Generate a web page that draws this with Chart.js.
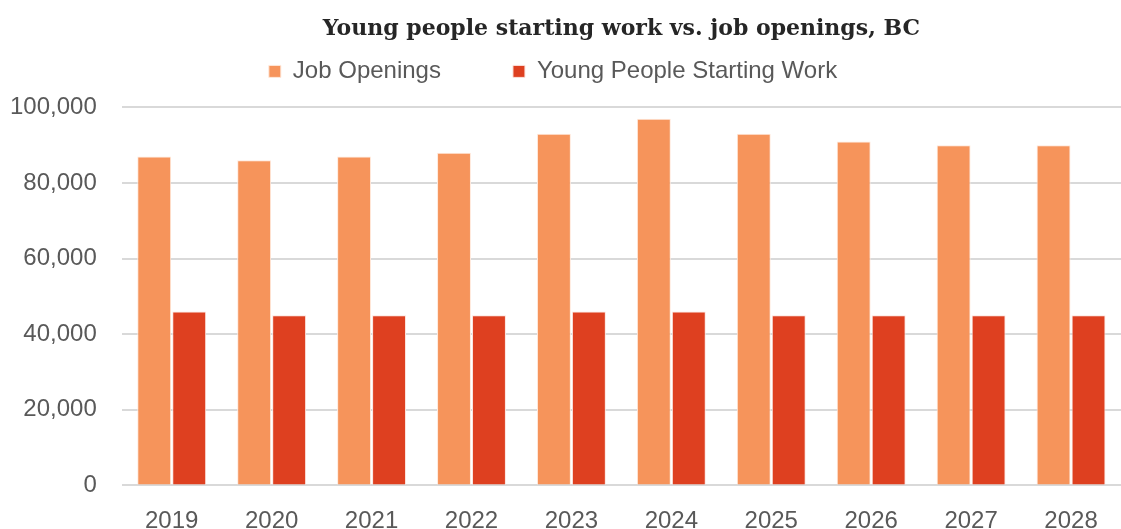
<!doctype html>
<html lang="en">
  <head>
    <meta charset="UTF-8" />
    <title>Young people starting work vs. job openings, BC</title>
    <script src="https://cdn.jsdelivr.net/npm/chart.js"></script>
    <style>
      html, body { margin: 0; padding: 0; background: #fff; }
      #wrap { width: 1121px; height: 529px; }
    </style>
  </head>
  <body>
    <div id="wrap"><canvas id="grafico"></canvas></div>

    <script>
      // data
      const anos = ["2019", "2020", "2021", "2022", "2023", "2024", "2025", "2026", "2027", "2028"];
      const jobOpenings = [87000, 86000, 87000, 88000, 93000, 97000, 93000, 91000, 90000, 90000];
      const youngPeople = [46000, 45000, 45000, 45000, 46000, 46000, 45000, 45000, 45000, 45000];
      const yTicks = [0, 20000, 40000, 60000, 80000, 100000];

      const fonteSans = "'Liberation Sans', sans-serif";

      // extra space under the legend, before the plot
      const espacoLegenda = {
        id: "espacoLegenda",
        beforeLayout(chart) {
          const leg = chart.legend;
          if (leg && !leg._comEspaco) {
            const fitOriginal = leg.fit;
            leg.fit = function () {
              fitOriginal.call(this);
              this.height += 14;
            };
            leg._comEspaco = true;
          }
        },
      };

      const config = {
        type: "bar",
        data: {
          labels: anos,
          datasets: [
            {
              label: "Job Openings",
              data: jobOpenings,
              backgroundColor: "#F6945B",
              borderColor: "#FFE9DC",
              borderWidth: 1,
              barPercentage: 0.97,
              categoryPercentage: 0.7,
            },
            {
              label: "Young People Starting Work",
              data: youngPeople,
              backgroundColor: "#DE4020",
              borderColor: "#FCE4DE",
              borderWidth: 1,
              barPercentage: 0.97,
              categoryPercentage: 0.7,
            },
          ],
        },
        options: {
          responsive: true,
          maintainAspectRatio: false,
          animation: false,
          layout: { padding: { left: -15, right: 0, top: 14, bottom: -26 } },
          plugins: {
            title: {
              display: true,
              text: "Young people starting work vs. job openings, BC",
              fullSize: false,
              color: "#262626",
              font: { family: "'DejaVu Serif', serif", size: 22, weight: "bold" },
              padding: { top: 2, bottom: -7 },
            },
            legend: {
              position: "top",
              labels: {
                color: "#595959",
                font: { family: fonteSans, size: 24 },
                boxWidth: 12,
                boxHeight: 12,
                padding: 24,
                // wider gap after the first item, like the original
                generateLabels: (chart) => {
                  const itens = Chart.defaults.plugins.legend.labels.generateLabels(chart);
                  if (itens.length) itens[0].text = itens[0].text + "\u2003\u2003";
                  return itens;
                },
              },
            },
            tooltip: { enabled: false },
          },
          scales: {
            x: {
              grid: { display: false },
              border: { display: false },
              ticks: {
                color: "#595959",
                font: { family: fonteSans, size: 24, lineHeight: 1 },
                padding: 16,
              },
            },
            y: {
              min: 0,
              max: 100000,
              afterBuildTicks: (axis) => {
                axis.ticks = yTicks.map((v) => ({ value: v }));
              },
              grid: { color: "#D9D9D9", lineWidth: 2, drawTicks: false },
              border: { display: false },
              ticks: {
                color: "#595959",
                font: { family: fonteSans, size: 24, lineHeight: 1.55 },
                padding: 25,
                callback: (v) => v.toLocaleString("en-US"),
              },
            },
          },
        },
        plugins: [espacoLegenda],
      };

      new Chart(document.getElementById("grafico"), config);
    </script>
  </body>
</html>
